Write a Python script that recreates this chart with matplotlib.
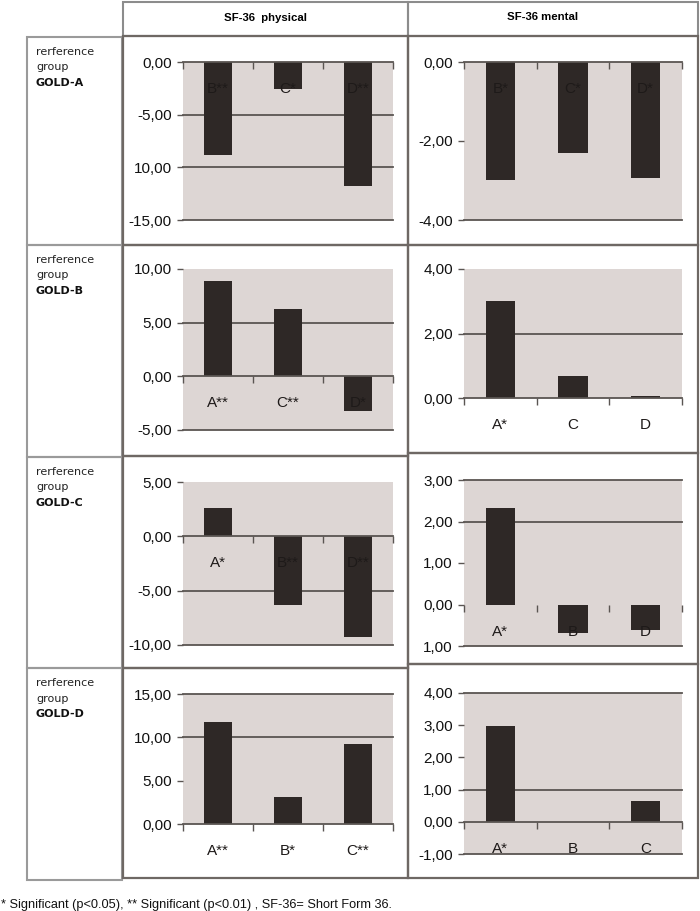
import matplotlib
matplotlib.use("Agg")
import matplotlib.pyplot as plt
from matplotlib.patches import Rectangle

# ---- data (SF-36 differences vs. reference group) ----
row_groups = ["GOLD-A", "GOLD-B", "GOLD-C", "GOLD-D"]
col_titles = ["SF-36  physical", "SF-36 mental"]

phys_cats = [["B**", "C*", "D**"],
             ["A**", "C**", "D*"],
             ["A*", "B**", "D**"],
             ["A**", "B*", "C**"]]
phys_vals = [[-8.8, -2.6, -11.8],
             [8.9, 6.3, -3.2],
             [2.6, -6.3, -9.3],
             [11.8, 3.1, 9.2]]
phys_ticks = [[0, -5, -10, -15],
              [10, 5, 0, -5],
              [5, 0, -5, -10],
              [15, 10, 5, 0]]
phys_ticklabels = [["0,00", "-5,00", "10,00", "-15,00"],
                   ["10,00", "5,00", "0,00", "-5,00"],
                   ["5,00", "0,00", "-5,00", "-10,00"],
                   ["15,00", "10,00", "5,00", "0,00"]]
phys_grid = [[0, -5, -10, -15], [5, 0, -5], [0, -5, -10], [15, 10, 0]]

ment_cats = [["B*", "C*", "D*"],
             ["A*", "C", "D"],
             ["A*", "B", "D"],
             ["A*", "B", "C"]]
ment_vals = [[-2.98, -2.3, -2.93],
             [3.0, 0.68, 0.06],
             [2.33, -0.68, -0.62],
             [2.97, 0.0, 0.65]]
ment_ticks = [[0, -2, -4],
              [4, 2, 0],
              [3, 2, 1, 0, -1],
              [4, 3, 2, 1, 0, -1]]
ment_ticklabels = [["0,00", "-2,00", "-4,00"],
                   ["4,00", "2,00", "0,00"],
                   ["3,00", "2,00", "1,00", "0,00", "1,00"],
                   ["4,00", "3,00", "2,00", "1,00", "0,00", "-1,00"]]
ment_grid = [[0, -4], [2, 0], [3, 2, -1], [4, 1, 0, -1]]

footnote = "* Significant (p<0.05), ** Significant (p<0.01) , SF-36= Short Form 36."

# ---- layout (pixels, y measured from top) ----
W, H = 700, 911
phys_x = (183, 393)
ment_x = (464, 682)
phys_y = [(62, 220), (269, 430), (482, 645), (694, 824)]
ment_y = [(62, 220), (269, 398), (480, 646), (693, 854)]
phys_rows = [36, 245, 456, 668, 878]
ment_rows = [36, 245, 453, 664, 878]
left_rows = [37, 245, 457, 668, 880]
label_y = [52, 260, 472, 683]

BG = "#ddd6d4"
BAR = "#2e2826"
LINE = "#5a5552"
FONT = ["Liberation Sans", "DejaVu Sans"]

fig = plt.figure(figsize=(W / 100, H / 100), dpi=100)
base = fig.add_axes([0, 0, 1, 1])
base.set_xlim(0, W)
base.set_ylim(H, 0)
base.axis("off")


def px_axes(x0, x1, ytop, ybot):
    return fig.add_axes([x0 / W, 1 - ybot / H, (x1 - x0) / W, (ybot - ytop) / H])


def draw_panel(ax, cats, vals, ticks, ticklabels, grid):
    ax.set_facecolor(BG)
    ax.set_xlim(0, 3)
    ax.set_ylim(min(ticks), max(ticks))
    xs = [i + 0.5 for i in range(len(cats))]
    ax.bar(xs, vals, width=0.4, color=BAR, zorder=2)
    for g in grid:
        ax.axhline(g, color=LINE, lw=1.3, zorder=3 if g == 0 else 1, clip_on=False)
    for s in ax.spines.values():
        s.set_visible(False)
    ax.spines["bottom"].set_position(("data", 0))
    ax.set_xticks([0, 1, 2, 3])
    ax.set_xticklabels([])
    ax.tick_params(axis="x", direction="out", length=5, width=1, color=LINE)
    ax.set_yticks(ticks)
    ax.set_yticklabels(ticklabels, family=FONT, fontsize=11, color="#111111")
    ax.tick_params(axis="y", length=4, width=1, color=LINE, pad=4)
    for x, c in zip(xs, cats):
        ax.annotate(c, xy=(x, 0), xytext=(0, -27), textcoords="offset pixels",
                    ha="center", va="center", family=FONT, fontsize=11,
                    color="#1e1a19", zorder=4, annotation_clip=False)


# table borders
base.add_patch(Rectangle((123, 2), 285, 34, fill=False, ec="#8c8c8c", lw=1.5))
base.add_patch(Rectangle((408, 2), 290, 34, fill=False, ec="#8c8c8c", lw=1.5))
base.text(266, 18, col_titles[0], ha="center", va="center", family=FONT,
          fontsize=8.2, fontweight="bold")
base.text(543, 17, col_titles[1], ha="center", va="center", family=FONT,
          fontsize=8.2, fontweight="bold")

for r in range(4):
    base.add_patch(Rectangle((27, left_rows[r]), 95, left_rows[r + 1] - left_rows[r],
                             fill=False, ec="#9a9a9a", lw=1.5))
    base.add_patch(Rectangle((123, phys_rows[r]), 285, phys_rows[r + 1] - phys_rows[r],
                             fill=False, ec="#6e6864", lw=1.6))
    base.add_patch(Rectangle((408, ment_rows[r]), 290, ment_rows[r + 1] - ment_rows[r],
                             fill=False, ec="#6e6864", lw=1.6))
    base.text(36, label_y[r], "rerference", ha="left", va="center",
              fontsize=8, color="#222222")
    base.text(36, label_y[r] + 15.5, "group", ha="left", va="center",
              fontsize=8, color="#222222")
    base.text(36, label_y[r] + 31, row_groups[r], ha="left", va="center",
              fontsize=8, fontweight="bold", color="#111111")

    ax = px_axes(phys_x[0], phys_x[1], *phys_y[r])
    draw_panel(ax, phys_cats[r], phys_vals[r], phys_ticks[r], phys_ticklabels[r], phys_grid[r])
    ax = px_axes(ment_x[0], ment_x[1], *ment_y[r])
    draw_panel(ax, ment_cats[r], ment_vals[r], ment_ticks[r], ment_ticklabels[r], ment_grid[r])

base.text(1, 905, footnote, ha="left", va="center", family=FONT,
          fontsize=9.2, color="#111111")

fig.savefig("out.png", dpi=100)
